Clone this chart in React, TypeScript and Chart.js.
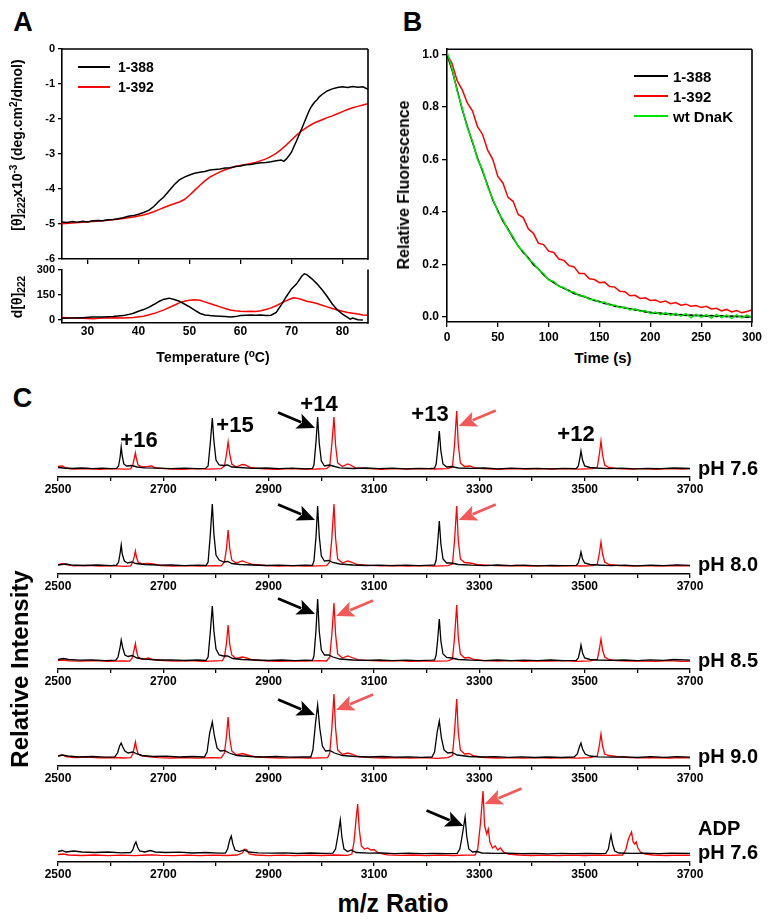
import React, { useEffect, useRef } from "react";
import { Chart, registerables } from "chart.js";
Chart.register(...registerables);

type Pt = [number, number];

// ---------------- Panel A data ----------------
const cdTempTicks = [30, 40, 50, 60, 70, 80];
const cdTempLabels = ["30", "40", "50", "60", "70", "80"];
const cdYTicks = [-6, -5, -4, -3, -2, -1, 0];
const cdYLabels = ["-6", "-5", "-4", "-3", "-2", "-1", "0"];
const derivYTicks = [0, 150, 300];
const derivYLabels = ["0", "150", "300"];

const cd388: Pt[] = [
  [25, -4.94], [26, -4.96], [27, -4.93], [28, -4.95], [29, -4.92], [30, -4.94], [31, -4.91], [32, -4.9],
  [33, -4.91], [34, -4.88], [35, -4.87], [36, -4.85], [37, -4.82], [38, -4.78], [39, -4.76], [40, -4.72],
  [41, -4.67], [42, -4.61], [43, -4.5], [44, -4.35], [45, -4.22], [46, -4.05], [47, -3.88], [48, -3.74],
  [49, -3.66], [50, -3.6], [51, -3.55], [52, -3.52], [53, -3.5], [54, -3.46], [55, -3.44], [56, -3.43],
  [57, -3.4], [58, -3.39], [59, -3.36], [60, -3.34], [61, -3.31], [62, -3.3], [63, -3.27], [64, -3.25],
  [65, -3.24], [66, -3.22], [67, -3.19], [68, -3.17], [68.5, -3.21], [69, -3.14], [69.5, -3.05], [70, -2.95],
  [70.5, -2.78], [71, -2.62], [71.5, -2.45], [72, -2.28], [72.5, -2.1], [73, -1.92], [73.5, -1.75], [74, -1.62],
  [74.5, -1.52], [75, -1.45], [75.5, -1.36], [76, -1.3], [77, -1.2], [78, -1.14], [79, -1.1], [80, -1.08],
  [81, -1.1], [82, -1.07], [83, -1.09], [84, -1.08], [85, -1.15],
];
const cd392: Pt[] = [
  [25, -4.99], [27, -4.97], [29, -4.95], [31, -4.93], [33, -4.91], [35, -4.88], [37, -4.84], [39, -4.8],
  [41, -4.74], [42, -4.7], [43, -4.65], [44, -4.59], [45, -4.53], [46, -4.47], [47, -4.42], [48, -4.37],
  [49, -4.3], [50, -4.18], [51, -4.04], [52, -3.9], [53, -3.77], [54, -3.66], [55, -3.58], [56, -3.51],
  [57, -3.45], [58, -3.4], [59, -3.36], [60, -3.33], [61, -3.3], [62, -3.27], [63, -3.24], [64, -3.19],
  [65, -3.14], [66, -3.07], [67, -2.98], [68, -2.87], [69, -2.74], [70, -2.6], [71, -2.46], [72, -2.34],
  [73, -2.24], [74, -2.15], [75, -2.08], [76, -2.02], [77, -1.96], [78, -1.91], [79, -1.85], [80, -1.79],
  [81, -1.73], [82, -1.68], [83, -1.64], [84, -1.6], [85, -1.56],
];
const deriv388: Pt[] = [
  [25, 10], [27, 12], [29, 14], [31, 17], [33, 18], [35, 20], [37, 26], [38, 32], [39, 40], [40, 52],
  [41, 62], [42, 75], [43, 92], [44, 110], [45, 124], [46, 130], [47, 122], [48, 112], [49, 95], [50, 78],
  [51, 58], [52, 40], [53, 30], [54, 26], [55, 24], [56, 22], [57, 20], [58, 18], [59, 20], [60, 26],
  [61, 28], [62, 30], [63, 28], [64, 30], [65, 26], [66, 28], [67, 45], [68, 90], [69, 140], [70, 185],
  [71, 215], [72, 260], [72.5, 275], [73, 270], [74, 245], [75, 215], [76, 180], [77, 140], [78, 95],
  [79, 60], [80, 35], [81, 15], [81.5, 5], [82, 12], [83, 2], [84, 0],
];
const deriv392: Pt[] = [
  [25, 15], [27, 12], [29, 10], [31, 8], [33, 12], [35, 14], [37, 12], [39, 15], [41, 22], [43, 38],
  [45, 60], [47, 88], [48, 102], [49, 112], [50, 118], [51, 120], [52, 117], [53, 108], [54, 98], [55, 88],
  [56, 78], [57, 68], [58, 60], [59, 55], [60, 52], [61, 51], [62, 52], [63, 50], [64, 55], [65, 62],
  [66, 72], [67, 85], [68, 100], [69, 115], [70, 128], [70.5, 132], [71, 130], [72, 122], [73, 112],
  [74, 105], [75, 98], [76, 88], [77, 78], [78, 68], [79, 60], [80, 52], [81, 45], [82, 40], [83, 35],
  [84, 30], [85, 28],
];

// ---------------- Panel B data ----------------
const timeTicks = [0, 50, 100, 150, 200, 250, 300];
const timeLabels = ["0", "50", "100", "150", "200", "250", "300"];
const fluorTicks = [0, 0.2, 0.4, 0.6, 0.8, 1.0];
const fluorLabels = ["0.0", "0.2", "0.4", "0.6", "0.8", "1.0"];

const fl388: Pt[] = [
  [0, 1.0], [5, 0.94], [10, 0.865], [15, 0.79], [20, 0.725], [25, 0.665], [30, 0.605], [35, 0.555], [40, 0.5],
  [45, 0.445], [50, 0.405], [55, 0.365], [60, 0.335], [65, 0.3], [70, 0.27], [75, 0.245], [80, 0.225],
  [85, 0.198], [90, 0.182], [95, 0.16], [100, 0.142], [105, 0.13], [110, 0.118], [115, 0.108], [120, 0.1],
  [125, 0.088], [130, 0.083], [135, 0.076], [140, 0.07], [145, 0.062], [150, 0.058], [155, 0.05], [160, 0.048],
  [165, 0.04], [170, 0.038], [175, 0.033], [180, 0.031], [185, 0.026], [190, 0.024], [195, 0.018], [200, 0.017],
  [205, 0.013], [210, 0.014], [215, 0.01], [220, 0.011], [225, 0.007], [230, 0.009], [235, 0.005], [240, 0.007],
  [245, 0.004], [250, 0.006], [255, 0.002], [260, 0.005], [265, 0.001], [270, 0.004], [275, 0.0], [280, 0.003],
  [285, 0.0], [290, 0.002], [295, -0.002], [300, 0.001],
];
const fl392: Pt[] = [
  [0, 1.0], [5, 0.965], [10, 0.9], [15, 0.865], [20, 0.815], [25, 0.785], [30, 0.725], [35, 0.695], [40, 0.635],
  [45, 0.6], [50, 0.535], [55, 0.51], [60, 0.455], [65, 0.44], [70, 0.39], [75, 0.378], [80, 0.335], [85, 0.318],
  [90, 0.28], [95, 0.275], [100, 0.25], [105, 0.245], [110, 0.22], [115, 0.215], [120, 0.195], [125, 0.19],
  [130, 0.165], [135, 0.165], [140, 0.145], [145, 0.142], [150, 0.13], [155, 0.132], [160, 0.115], [165, 0.113],
  [170, 0.097], [175, 0.095], [180, 0.08], [185, 0.082], [190, 0.07], [195, 0.072], [200, 0.062], [205, 0.064],
  [210, 0.055], [215, 0.06], [220, 0.05], [225, 0.054], [230, 0.044], [235, 0.048], [240, 0.04], [245, 0.043],
  [250, 0.035], [255, 0.04], [260, 0.03], [265, 0.032], [270, 0.022], [275, 0.028], [280, 0.018], [285, 0.024],
  [290, 0.015], [295, 0.02], [300, 0.026],
];
const flWt: Pt[] = [
  [0, 1.01], [5, 0.945], [10, 0.86], [15, 0.795], [20, 0.72], [25, 0.67], [30, 0.6], [35, 0.56], [40, 0.495],
  [45, 0.45], [50, 0.4], [55, 0.37], [60, 0.33], [65, 0.305], [70, 0.268], [75, 0.25], [80, 0.22], [85, 0.205],
  [90, 0.18], [95, 0.165], [100, 0.14], [105, 0.135], [110, 0.115], [115, 0.112], [120, 0.096], [125, 0.094],
  [130, 0.08], [135, 0.079], [140, 0.066], [145, 0.066], [150, 0.054], [155, 0.056], [160, 0.044], [165, 0.045],
  [170, 0.034], [175, 0.037], [180, 0.026], [185, 0.03], [190, 0.02], [195, 0.024], [200, 0.012], [205, 0.018],
  [210, 0.008], [215, 0.016], [220, 0.005], [225, 0.013], [230, 0.002], [235, 0.012], [240, -0.004], [245, 0.01],
  [250, -0.002], [255, 0.008], [260, -0.005], [265, 0.009], [270, -0.003], [275, 0.006], [280, -0.006],
  [285, 0.007], [290, -0.004], [295, 0.006], [300, -0.002],
];

// ---------------- Panel C data ----------------
const mzTicks = [2500, 2600, 2700, 2800, 2900, 3000, 3100, 3200, 3300, 3400, 3500, 3600, 3700];
const mzLabels = ["2500", "", "2700", "", "2900", "", "3100", "", "3300", "", "3500", "", "3700"];
const chargeStates = ["+16", "+15", "+14", "+13", "+12"];
const rowNames = [["pH 7.6"], ["pH 8.0"], ["pH 8.5"], ["pH 9.0"], ["ADP", "pH 7.6"]];

const ms76Black: Pt[] = [
  [2500, 1.5], [2510, 1], [2525, 0.5], [2545, 1], [2565, 0.3], [2585, 0.8], [2600, 0.4], [2611, 0.6], [2615, 3],
  [2618, 12], [2620, 22], [2622, 13], [2625, 5], [2630, 3], [2640, 3.5], [2650, 2], [2665, 1.2], [2690, 0.8],
  [2715, 0.4], [2740, 0.9], [2765, 0.3], [2780, 0.6], [2785, 3], [2789, 25], [2793, 51], [2796, 28], [2800, 9],
  [2806, 4], [2815, 3.5], [2822, 4], [2830, 2], [2845, 1.5], [2870, 0.6], [2895, 1], [2920, 0.3], [2945, 0.8],
  [2970, 0.2], [2983, 0.6], [2986, 4], [2990, 28], [2993, 52], [2996, 26], [3000, 8], [3006, 3], [3015, 4],
  [3022, 3], [3035, 1.2], [3060, 0.5], [3085, 1], [3110, 0.3], [3135, 0.8], [3160, 0.2], [3185, 0.7],
  [3205, 0.3], [3215, 0.8], [3218, 5], [3221, 20], [3224, 38], [3227, 18], [3231, 5], [3238, 2], [3247, 2.5],
  [3260, 1], [3285, 0.6], [3310, 1], [3335, 0.2], [3360, 0.9], [3385, 0.3], [3410, 0.7], [3435, 0.1],
  [3460, 0.6], [3484, 0.3], [3488, 3], [3491, 11], [3493, 18], [3496, 9], [3500, 3], [3510, 1.5], [3520, 1],
  [3545, 0.4], [3570, 0.9], [3595, 0.2], [3620, 0.7], [3645, 0.3], [3670, 1], [3700, 0.5],
];
const ms76Red: Pt[] = [
  [2500, 2.5], [2508, 3], [2515, 1], [2530, 0], [2555, 0.5], [2580, -0.3], [2605, 0.3], [2625, -0.2], [2638, 0.2],
  [2642, 4], [2645, 11], [2647, 16], [2649, 10], [2652, 4], [2660, 2], [2670, 2.5], [2678, 3], [2685, 1],
  [2710, 0.2], [2735, -0.3], [2760, 0.3], [2785, -0.2], [2810, 0.4], [2816, 3], [2820, 15], [2823, 27],
  [2826, 15], [2830, 5], [2838, 2], [2850, 4.5], [2856, 4], [2865, 1.5], [2890, 0.2], [2915, -0.3], [2940, 0.3],
  [2965, -0.2], [2990, 0], [3010, 0.4], [3016, 3], [3020, 25], [3024, 52], [3027, 24], [3031, 6], [3040, 2.5],
  [3050, 5], [3055, 4], [3065, 1.2], [3090, 0.3], [3115, -0.3], [3140, 0.3], [3165, -0.2], [3190, 0.4],
  [3215, 0], [3240, 0.3], [3249, 2], [3253, 25], [3257, 58], [3260, 25], [3264, 6], [3272, 2.5], [3282, 3],
  [3292, 1], [3315, 0.2], [3340, -0.3], [3365, 0.3], [3390, -0.2], [3415, 0.4], [3440, 0], [3465, 0.3],
  [3490, -0.2], [3515, 0.3], [3524, 2], [3528, 15], [3531, 28], [3534, 14], [3538, 4], [3546, 1.5], [3560, 0.5],
  [3585, -0.2], [3610, 0.3], [3635, -0.3], [3660, 0.4], [3685, 0], [3700, 0.3],
];
const ms80Black: Pt[] = [
  [2500, 1], [2515, 2], [2525, 1], [2550, 0.5], [2575, 1], [2600, 0.4], [2611, 0.8], [2615, 4], [2618, 13],
  [2620, 21], [2622, 12], [2626, 5], [2632, 3], [2640, 4], [2648, 2.5], [2665, 1.5], [2690, 0.8], [2715, 1],
  [2740, 0.4], [2765, 0.9], [2781, 0.5], [2785, 4], [2789, 30], [2793, 62], [2796, 32], [2800, 11], [2806, 6],
  [2815, 4], [2822, 4.5], [2830, 2.5], [2845, 1.5], [2870, 1], [2895, 0.5], [2920, 0.9], [2945, 0.3],
  [2970, 0.8], [2983, 0.6], [2986, 5], [2990, 30], [2993, 60], [2996, 30], [3000, 10], [3006, 5], [3014, 5.5],
  [3022, 3.5], [3035, 2], [3060, 1], [3085, 0.5], [3110, 0.9], [3135, 0.3], [3160, 0.8], [3185, 0.4],
  [3210, 0.9], [3215, 1], [3218, 6], [3221, 24], [3224, 45], [3227, 22], [3231, 7], [3238, 3], [3247, 3],
  [3260, 1.5], [3285, 0.8], [3310, 0.4], [3335, 1], [3360, 0.3], [3385, 0.8], [3410, 0.2], [3435, 0.7],
  [3460, 0.3], [3484, 0.6], [3488, 3], [3491, 9], [3493, 14], [3496, 7], [3500, 3], [3510, 1.5], [3525, 1],
  [3550, 0.4], [3575, 0.9], [3600, 0.2], [3625, 0.8], [3650, 0.3], [3675, 1.2], [3700, 0.6],
];
const ms80Red: Pt[] = [
  [2500, 1], [2508, 2.5], [2515, 1.5], [2530, 0.2], [2555, 0.6], [2580, -0.2], [2605, 0.3], [2625, -0.3],
  [2638, 0.2], [2642, 4], [2645, 10], [2647, 15], [2649, 9], [2652, 4], [2660, 2], [2670, 2.5], [2680, 2],
  [2695, 0.5], [2720, 0], [2745, 0.4], [2770, -0.2], [2795, 0.3], [2810, 0.2], [2816, 4], [2820, 18],
  [2823, 36], [2826, 18], [2830, 6], [2838, 3], [2850, 5], [2858, 3.5], [2870, 1.5], [2895, 0.5], [2920, 0],
  [2945, 0.4], [2970, -0.2], [2995, 0.2], [3010, 0.3], [3016, 4], [3020, 28], [3024, 62], [3027, 28],
  [3031, 7], [3040, 3], [3050, 5], [3057, 4], [3068, 1.5], [3090, 0.6], [3115, 0.2], [3140, 0.5], [3165, 0],
  [3190, 0.4], [3215, -0.2], [3240, 0.3], [3249, 2], [3253, 26], [3257, 60], [3260, 26], [3264, 7],
  [3272, 3.5], [3282, 3], [3295, 1.5], [3320, 0.6], [3345, 0.2], [3370, 0.5], [3395, 0], [3420, 0.4],
  [3445, -0.2], [3470, 0.3], [3495, 0], [3515, 0.3], [3524, 2], [3528, 13], [3531, 24], [3534, 12], [3538, 4],
  [3546, 1.5], [3565, 0.5], [3590, 0], [3615, 0.4], [3640, -0.2], [3665, 0.3], [3700, 0.2],
];
const ms85Black: Pt[] = [
  [2500, 1.5], [2510, 2.5], [2520, 1.5], [2540, 0.8], [2565, 1], [2590, 0.4], [2610, 0.8], [2614, 4],
  [2618, 14], [2620, 21], [2623, 13], [2627, 6], [2633, 4.5], [2641, 5.5], [2650, 3], [2665, 1.8], [2690, 1],
  [2715, 1.2], [2740, 0.5], [2765, 1], [2781, 0.6], [2785, 4], [2789, 28], [2793, 55], [2796, 30], [2800, 12],
  [2806, 6], [2814, 5], [2822, 5], [2832, 2.5], [2850, 1.5], [2875, 1], [2900, 0.5], [2925, 1], [2950, 0.4],
  [2970, 0.8], [2983, 0.6], [2986, 5], [2990, 32], [2993, 62], [2996, 30], [3000, 11], [3006, 6], [3014, 6],
  [3022, 4], [3035, 2], [3060, 1], [3085, 0.6], [3110, 1], [3135, 0.4], [3160, 0.9], [3185, 0.3], [3210, 0.8],
  [3215, 1], [3218, 6], [3221, 22], [3224, 42], [3227, 20], [3231, 7], [3238, 3.5], [3247, 3], [3260, 1.5],
  [3285, 0.8], [3310, 0.4], [3335, 1], [3360, 0.3], [3385, 0.8], [3410, 0.4], [3435, 1], [3460, 0.3],
  [3484, 0.6], [3488, 3], [3491, 10], [3493, 16], [3496, 8], [3500, 3], [3510, 1.5], [3525, 1], [3550, 0.6],
  [3575, 1], [3600, 0.4], [3625, 1.2], [3650, 0.6], [3670, 1.5], [3700, 0.8],
];
const ms85Red: Pt[] = [
  [2500, 0.5], [2510, 1], [2520, 0.2], [2545, -0.2], [2570, 0.3], [2595, -0.3], [2620, 0.2], [2636, -0.2],
  [2641, 3], [2644, 10], [2647, 17.5], [2649, 10], [2652, 4], [2660, 1.5], [2672, 3], [2680, 1.5], [2700, 0.3],
  [2725, -0.2], [2750, 0.3], [2775, -0.3], [2800, 0.2], [2812, 0.3], [2816, 4], [2820, 18], [2823, 36],
  [2826, 17], [2830, 6], [2838, 2.5], [2850, 4], [2858, 3], [2870, 1], [2895, 0.2], [2920, -0.3], [2945, 0.2],
  [2970, -0.2], [2995, 0.3], [3010, 0], [3016, 4], [3020, 27], [3024, 58], [3027, 27], [3031, 7], [3040, 3],
  [3050, 5], [3058, 3.5], [3070, 1.2], [3095, 0.3], [3120, -0.2], [3145, 0.3], [3170, -0.3], [3195, 0.2],
  [3220, -0.2], [3240, 0.2], [3249, 2], [3253, 24], [3257, 56], [3260, 24], [3264, 7], [3272, 3], [3280, 3.5],
  [3290, 1.5], [3310, 0.3], [3335, -0.2], [3360, 0.3], [3385, -0.3], [3410, 0.2], [3435, -0.2], [3460, 0.3],
  [3485, -0.3], [3510, 0.2], [3524, 1.5], [3528, 12], [3531, 22], [3534, 11], [3538, 4], [3546, 1.5],
  [3560, 0.3], [3585, -0.2], [3610, 0.2], [3635, -0.4], [3660, 0.3], [3685, -0.3], [3700, 0],
];
const ms90Black: Pt[] = [
  [2500, 2], [2508, 3], [2518, 2], [2540, 1], [2565, 1.5], [2590, 0.8], [2608, 1.2], [2613, 5], [2617, 12],
  [2620, 15], [2623, 11], [2627, 7], [2633, 5], [2642, 6], [2650, 4], [2660, 2.5], [2680, 1.5], [2705, 1.8],
  [2730, 1], [2755, 1.5], [2778, 1], [2783, 6], [2788, 25], [2793, 36], [2797, 22], [2802, 10], [2808, 7],
  [2816, 7.5], [2825, 5], [2840, 2.5], [2865, 1.5], [2890, 1], [2915, 1.5], [2940, 0.8], [2965, 1.2],
  [2980, 1], [2984, 8], [2989, 35], [2993, 53], [2997, 30], [3002, 12], [3008, 7], [3016, 7.5], [3025, 5],
  [3040, 2.5], [3065, 1.5], [3090, 1], [3115, 1.5], [3140, 0.8], [3165, 1.2], [3190, 0.7], [3210, 1],
  [3215, 6], [3220, 26], [3224, 37], [3228, 20], [3233, 8], [3240, 5], [3248, 5.5], [3258, 3], [3280, 1.5],
  [3305, 1], [3330, 1.4], [3355, 0.6], [3380, 1.2], [3405, 0.5], [3430, 1], [3455, 0.5], [3480, 1], [3486, 4],
  [3490, 11], [3493, 15], [3496, 9], [3501, 4], [3510, 2], [3525, 1.2], [3550, 0.8], [3575, 1.2], [3600, 0.5],
  [3625, 1.3], [3650, 0.7], [3675, 1.4], [3700, 0.8],
];
const ms90Red: Pt[] = [
  [2500, 2], [2508, 3], [2515, 1.5], [2530, 0.5], [2555, 1], [2580, 0.2], [2605, 0.5], [2625, 0], [2638, 0.3],
  [2642, 4], [2645, 11], [2647, 16], [2649, 10], [2652, 4], [2660, 2], [2670, 1.5], [2690, 0.3], [2715, 0],
  [2740, 0.4], [2765, -0.2], [2790, 0.3], [2810, 0.2], [2816, 5], [2820, 22], [2823, 41], [2826, 20],
  [2830, 7], [2838, 3], [2850, 4.5], [2860, 3], [2875, 1], [2900, 0.3], [2925, -0.2], [2950, 0.3], [2975, -0.2],
  [3000, 0.2], [3012, 0.4], [3016, 5], [3020, 30], [3024, 64], [3027, 30], [3031, 8], [3040, 3.5], [3050, 5],
  [3058, 4], [3070, 1.5], [3095, 0.4], [3120, 0], [3145, 0.4], [3170, -0.2], [3195, 0.3], [3220, -0.3],
  [3240, 0.3], [3249, 2.5], [3253, 27], [3257, 59], [3260, 26], [3264, 8], [3272, 4], [3280, 4.5], [3290, 2],
  [3310, 0.5], [3335, 0], [3360, 0.4], [3385, -0.2], [3410, 0.3], [3435, 0], [3460, 0.4], [3485, -0.2],
  [3510, 0.3], [3524, 2], [3528, 13], [3531, 24], [3534, 12], [3538, 4], [3546, 2.5], [3560, 1.5], [3585, 0.5],
  [3610, 0.2], [3635, 0.5], [3660, 0], [3685, 0.4], [3700, 0.2],
];
const msAdpBlack: Pt[] = [
  [2500, 2.5], [2508, 3.5], [2515, 2], [2530, 3], [2545, 2], [2570, 1.5], [2595, 2], [2620, 1.2], [2638, 1.5],
  [2642, 4], [2645, 9], [2648, 12], [2651, 7], [2655, 3], [2665, 2], [2675, 3.5], [2685, 2], [2705, 1.5],
  [2730, 1.8], [2755, 1], [2780, 1.5], [2805, 0.8], [2818, 1], [2822, 5], [2826, 14], [2829, 18], [2832, 10],
  [2836, 4], [2845, 2.5], [2853, 4], [2862, 2], [2880, 1.2], [2905, 0.8], [2930, 1.2], [2955, 0.5], [2980, 1],
  [3005, 0.6], [3022, 0.8], [3027, 5], [3032, 20], [3036, 34], [3039, 17], [3043, 5], [3050, 2.5], [3057, 4],
  [3066, 1.5], [3090, 0.8], [3115, 1], [3140, 0.4], [3165, 0.8], [3190, 0.3], [3215, 0.7], [3240, 0.3],
  [3258, 0.6], [3263, 5], [3268, 20], [3273, 37], [3276, 18], [3280, 5], [3287, 2], [3295, 2.5], [3305, 1],
  [3330, 0.6], [3355, 0.9], [3380, 0.3], [3405, 0.7], [3430, 0.2], [3455, 0.6], [3480, 0.3], [3505, 0.7],
  [3530, 0.4], [3540, 0.6], [3545, 5], [3548, 14], [3550, 19], [3553, 10], [3557, 3], [3565, 1], [3590, 0.6],
  [3615, 0.9], [3640, 0.3], [3665, 0.8], [3700, 0.5],
];
const msAdpRed: Pt[] = [
  [2500, -0.5], [2510, 0], [2520, -1], [2545, -1.5], [2570, -1], [2595, -1.6], [2620, -1.2], [2645, -1.7],
  [2670, -1], [2680, -0.8], [2695, -1.3], [2720, -1.6], [2745, -1.1], [2770, -1.7], [2795, -1.2], [2820, -1.5],
  [2840, -1], [2850, 1], [2855, 5], [2859, 4], [2863, 0], [2875, -1], [2900, -1.6], [2925, -1.1], [2950, -1.7],
  [2975, -1.2], [3000, -1.5], [3025, -1], [3050, -1.3], [3058, 0], [3062, 12], [3066, 35], [3069, 50],
  [3072, 25], [3076, 8], [3082, 5], [3088, 6], [3094, 4], [3100, 4.5], [3108, 1], [3125, -0.8], [3150, -1.4],
  [3175, -1], [3200, -1.6], [3225, -1.1], [3250, -1.5], [3275, -1.2], [3292, -1], [3297, 5], [3302, 30],
  [3307, 63], [3310, 28], [3314, 20], [3317, 25], [3320, 12], [3325, 6], [3330, 8], [3335, 4], [3340, 6],
  [3346, 2], [3355, 0], [3375, -1], [3400, -1.5], [3425, -1.1], [3450, -1.6], [3475, -1.2], [3500, -1.5],
  [3525, -1.1], [3550, -1.4], [3572, -1], [3578, 4], [3583, 15], [3589, 22], [3592, 12], [3595, 10],
  [3598, 12], [3601, 6], [3606, 2], [3615, 0], [3630, -1], [3655, -1.5], [3680, -1.1], [3700, -1.4],
];

type ArrowT = { mz: number; y: number; color: "black" | "red" };
const arrowsPh76: ArrowT[] = [{ mz: 2988, y: 41, color: "black" }, { mz: 3261, y: 43, color: "red" }];
const arrowsPh80: ArrowT[] = [{ mz: 2988, y: 46, color: "black" }, { mz: 3261, y: 46, color: "red" }];
const arrowsPh85: ArrowT[] = [{ mz: 2988, y: 47, color: "black" }, { mz: 3028, y: 45, color: "red" }];
const arrowsPh90: ArrowT[] = [{ mz: 2988, y: 43, color: "black" }, { mz: 3028, y: 48, color: "red" }];
const arrowsAdp: ArrowT[] = [{ mz: 3270, y: 28, color: "black" }, { mz: 3310, y: 50, color: "red" }];

// ---------------- layout / style ----------------
const FONT = 'Arial, "Liberation Sans", Helvetica, sans-serif';
const RED = "#ff0000";
const GREEN = "#00e600";
const ARROW_RED = "#f25a5a";

type Rect = { l: number; t: number; r: number; b: number };
type Marg = { ml: number; mr: number; mt: number; mb: number };

function lineDs(pts: Pt[], color: string, width: number) {
  return {
    data: pts.map((p) => ({ x: p[0], y: p[1] })),
    borderColor: color,
    borderWidth: width,
    pointRadius: 0,
    fill: false,
    tension: 0,
  };
}

function axis(
  horizontal: boolean,
  min: number,
  max: number,
  ticks: number[],
  labels: string[],
  o: {
    size: number;
    tickLength: number;
    padding: number;
    fit: number;
    drawTicks?: boolean;
    hideLabels?: boolean;
  }
) {
  const labelFor = (v: number) => {
    const k = ticks.findIndex((t) => Math.abs(t - v) < 1e-6);
    return k >= 0 ? labels[k] : "";
  };
  const cfg: any = {
    type: "linear",
    position: horizontal ? "bottom" : "left",
    min,
    max,
    afterBuildTicks: (s: any) => {
      s.ticks = ticks.map((v) => ({ value: v }));
    },
    afterFit: (s: any) => {
      if (horizontal) s.height = o.fit;
      else s.width = o.fit;
    },
    ticks: {
      display: !o.hideLabels,
      padding: o.padding,
      color: "#000",
      font: { family: FONT, size: o.size, weight: "bold" },
      callback: (v: any) => labelFor(Number(v)),
    },
    grid: {
      drawOnChartArea: false,
      drawTicks: o.drawTicks !== false,
      tickLength: o.tickLength,
      color: "#000",
      lineWidth: 1.3,
    },
    border: { display: true, color: "#000", width: 1.6 },
  };
  if (horizontal) {
    cfg.ticks.autoSkip = false;
    cfg.ticks.maxRotation = 0;
    cfg.ticks.minRotation = 0;
  }
  return cfg;
}

// tick labels of a y axis written next to the axis, at the scale's own pixel positions
function yLabelPlugin(values: number[], labels: string[], size: number, gap: number) {
  return {
    id: "ylabels",
    afterDraw(chart: any) {
      const ys = chart.scales.y;
      const ctx = chart.ctx;
      ctx.save();
      ctx.fillStyle = "#000";
      ctx.font = `bold ${size}px ${FONT}`;
      ctx.textAlign = "right";
      ctx.textBaseline = "middle";
      values.forEach((v, i) => {
        ctx.fillText(labels[i], ys.right - gap, ys.getPixelForValue(v));
      });
      ctx.restore();
    },
  };
}

function framePlugin(top: boolean, right: boolean) {
  return {
    id: "frame",
    afterDraw(chart: any) {
      const { ctx, chartArea: a } = chart;
      ctx.save();
      ctx.strokeStyle = "#000";
      ctx.lineWidth = 1.6;
      ctx.beginPath();
      if (top) {
        ctx.moveTo(a.left, a.top);
        ctx.lineTo(a.right, a.top);
      }
      if (right) {
        ctx.moveTo(a.right, a.top);
        ctx.lineTo(a.right, a.bottom + 0.8);
      }
      ctx.stroke();
      ctx.restore();
    },
  };
}

function arrowPlugin(arrows: ArrowT[]) {
  return {
    id: "arrows",
    afterDatasetsDraw(chart: any) {
      const ctx = chart.ctx;
      const xs = chart.scales.x;
      const ys = chart.scales.y;
      arrows.forEach((a) => {
        const tx = xs.getPixelForValue(a.mz);
        const ty = ys.getPixelForValue(a.y);
        const dir = a.color === "black" ? -1 : 1;
        const sx = tx + dir * 37;
        const sy = ty - 15.5;
        const ang = Math.atan2(ty - sy, tx - sx);
        const headLen = 18;
        const headW = 8;
        const bx = tx - headLen * Math.cos(ang);
        const by = ty - headLen * Math.sin(ang);
        const col = a.color === "black" ? "#000" : ARROW_RED;
        ctx.save();
        ctx.strokeStyle = col;
        ctx.fillStyle = col;
        ctx.lineWidth = 2.8;
        ctx.beginPath();
        ctx.moveTo(sx, sy);
        ctx.lineTo(bx + 3 * Math.cos(ang), by + 3 * Math.sin(ang));
        ctx.stroke();
        ctx.beginPath();
        ctx.moveTo(tx, ty);
        ctx.lineTo(bx + headW * Math.sin(ang), by - headW * Math.cos(ang));
        ctx.lineTo(bx + 4 * Math.cos(ang), by + 4 * Math.sin(ang));
        ctx.lineTo(bx - headW * Math.sin(ang), by + headW * Math.cos(ang));
        ctx.closePath();
        ctx.fill();
        ctx.restore();
      });
    },
  };
}

function baseOptions(m: Marg, yHidden: boolean, scales: any) {
  return {
    animation: false,
    responsive: false,
    maintainAspectRatio: false,
    devicePixelRatio: 1,
    events: [],
    layout: { padding: { left: yHidden ? m.ml : 0, right: m.mr, top: m.mt, bottom: 0 } },
    plugins: { legend: { display: false }, tooltip: { enabled: false } },
    scales,
  };
}

function ChartCanvas({ rect, m, build }: { rect: Rect; m: Marg; build: () => any }) {
  const ref = useRef<HTMLCanvasElement | null>(null);
  useEffect(() => {
    const c = new Chart(ref.current as HTMLCanvasElement, build());
    return () => c.destroy();
  }, []);
  const w = rect.r - rect.l + m.ml + m.mr;
  const h = rect.b - rect.t + m.mt + m.mb;
  return (
    <canvas
      ref={ref}
      width={w}
      height={h}
      style={{ position: "absolute", left: rect.l - m.ml, top: rect.t - m.mt, width: w, height: h }}
    />
  );
}

function Txt({
  x,
  y,
  size,
  children,
  align = "center",
  rotate = false,
}: {
  x: number;
  y: number;
  size: number;
  children: any;
  align?: "center" | "left";
  rotate?: boolean;
}) {
  const tx = align === "center" ? "-50%" : "0";
  return (
    <div
      style={{
        position: "absolute",
        left: x,
        top: y,
        fontSize: size,
        fontWeight: "bold",
        lineHeight: 1,
        whiteSpace: "nowrap",
        transform: `translate(${tx}, -50%)${rotate ? " rotate(-90deg)" : ""}`,
      }}
    >
      {children}
    </div>
  );
}

function LegendLine({ x1, x2, y, color }: { x1: number; x2: number; y: number; color: string }) {
  return <div style={{ position: "absolute", left: x1, top: y - 1, width: x2 - x1, height: 2, background: color }} />;
}

const sub = { fontSize: "0.72em", position: "relative" as const, top: "0.3em" };
const sup = { fontSize: "0.72em", position: "relative" as const, top: "-0.45em" };

// chart rectangles
const rectATop: Rect = { l: 62, t: 49, r: 368, b: 259 };
const margATop: Marg = { ml: 40, mr: 10, mt: 12, mb: 12 };
const rectABot: Rect = { l: 62, t: 268, r: 368, b: 323 };
const margABot: Marg = { ml: 40, mr: 10, mt: 8, mb: 22 };
const rectB: Rect = { l: 447, t: 49, r: 752, b: 322 };
const margB: Marg = { ml: 45, mr: 14, mt: 10, mb: 24 };
const rowAxisY = [477, 574, 669, 766, 862];
const margRow: Marg = { ml: 20, mr: 20, mt: 10, mb: 22 };

const specRows: { black: Pt[]; red: Pt[]; arrows: ArrowT[] }[] = [
  { black: ms76Black, red: ms76Red, arrows: arrowsPh76 },
  { black: ms80Black, red: ms80Red, arrows: arrowsPh80 },
  { black: ms85Black, red: ms85Red, arrows: arrowsPh85 },
  { black: ms90Black, red: ms90Red, arrows: arrowsPh90 },
  { black: msAdpBlack, red: msAdpRed, arrows: arrowsAdp },
];

export default function App() {
  const buildATop = () => ({
    type: "line",
    data: { datasets: [lineDs(cd388, "#000", 1.5), lineDs(cd392, RED, 1.5)] },
    options: baseOptions(margATop, false, {
      x: axis(true, 25, 85, cdTempTicks, cdTempLabels, {
        size: 12,
        tickLength: 5,
        padding: 0,
        fit: margATop.mb,
        hideLabels: true,
      }),
      y: axis(false, -6, 0, cdYTicks, cdYLabels, {
        size: 11,
        tickLength: 4,
        padding: 3,
        fit: margATop.ml,
        hideLabels: true,
      }),
    }),
    plugins: [framePlugin(true, true), yLabelPlugin(cdYTicks, cdYLabels, 11, 7)],
  });
  const buildABot = () => ({
    type: "line",
    data: { datasets: [lineDs(deriv388, "#000", 1.5), lineDs(deriv392, RED, 1.5)] },
    options: baseOptions(margABot, false, {
      x: axis(true, 25, 85, cdTempTicks, cdTempLabels, { size: 12, tickLength: 0, padding: 1, fit: margABot.mb, drawTicks: false }),
      y: axis(false, -18, 300, derivYTicks, derivYLabels, { size: 11, tickLength: 4, padding: 3, fit: margABot.ml }),
    }),
    plugins: [framePlugin(false, true)],
  });
  const buildB = () => ({
    type: "line",
    data: { datasets: [lineDs(flWt, GREEN, 1.5), lineDs(fl388, "#000", 1.5), lineDs(fl392, RED, 1.5)] },
    options: baseOptions(margB, false, {
      x: axis(true, 0, 300, timeTicks, timeLabels, { size: 12, tickLength: 5, padding: 3, fit: margB.mb }),
      y: axis(false, -0.02, 1.02, fluorTicks, fluorLabels, { size: 12, tickLength: 5, padding: 3, fit: margB.ml }),
    }),
    plugins: [framePlugin(true, true)],
  });
  const buildRow = (i: number) => () => ({
    type: "line",
    data: { datasets: [lineDs(specRows[i].black, "#000", 1.3), lineDs(specRows[i].red, RED, 1.3)] },
    options: baseOptions(margRow, true, {
      x: axis(true, 2500, 3700, mzTicks, mzLabels, { size: 12, tickLength: 4, padding: 1, fit: margRow.mb }),
      y: { type: "linear", display: false, min: -8, max: 66 },
    }),
    plugins: [arrowPlugin(specRows[i].arrows)],
  });

  const chargePos = [
    [139, 439.5],
    [235, 425],
    [319, 404],
    [430, 414],
    [576, 434],
  ];
  const rowLabelY = [[468], [564], [660], [756], [828, 852]];

  return (
    <div
      style={{
        position: "absolute",
        left: 0,
        top: 0,
        width: 770,
        height: 922,
        background: "#fff",
        color: "#000",
        fontFamily: FONT,
        overflow: "hidden",
      }}
    >
      <ChartCanvas rect={rectATop} m={margATop} build={buildATop} />
      <ChartCanvas rect={rectABot} m={margABot} build={buildABot} />
      <ChartCanvas rect={rectB} m={margB} build={buildB} />
      {rowAxisY.map((yb, i) => (
        <ChartCanvas key={i} rect={{ l: 58, t: yb - 74, r: 690, b: yb }} m={margRow} build={buildRow(i)} />
      ))}

      {/* panel letters */}
      <Txt x={23} y={22} size={27}>A</Txt>
      <Txt x={412.5} y={22} size={27}>B</Txt>
      <Txt x={22.5} y={398} size={27}>C</Txt>

      {/* panel A texts */}
      <LegendLine x1={78} x2={110} y={67} color="#000" />
      <LegendLine x1={78} x2={110} y={87} color={RED} />
      <Txt x={118} y={67} size={14} align="left">1-388</Txt>
      <Txt x={118} y={87} size={14} align="left">1-392</Txt>
      <Txt x={17} y={145} size={14} rotate>
        [θ]<span style={sub}>222</span>x10<span style={sup}>-3</span> (deg.cm<span style={sup}>2</span>/dmol)
      </Txt>
      <Txt x={17} y={297} size={14} rotate>
        d[θ]<span style={sub}>222</span>
      </Txt>
      <Txt x={213} y={357} size={14}>
        Temperature (<span style={sup}>o</span>C)
      </Txt>

      {/* panel B texts */}
      <LegendLine x1={634} x2={668} y={76} color="#000" />
      <LegendLine x1={634} x2={668} y={96} color={RED} />
      <LegendLine x1={634} x2={668} y={116} color={GREEN} />
      <Txt x={673} y={76} size={15} align="left">1-388</Txt>
      <Txt x={673} y={96} size={15} align="left">1-392</Txt>
      <Txt x={673} y={116} size={15} align="left">wt DnaK</Txt>
      <Txt x={404} y={185} size={16} rotate>Relative Fluorescence</Txt>
      <Txt x={603} y={357} size={15}>Time (s)</Txt>

      {/* panel C texts */}
      {chargeStates.map((c, i) => (
        <Txt key={c} x={chargePos[i][0]} y={chargePos[i][1]} size={22}>
          {c}
        </Txt>
      ))}
      {rowNames.map((names, i) =>
        names.map((n, j) => (
          <Txt key={`${i}-${j}`} x={698} y={rowLabelY[i][j]} size={20} align="left">
            {n}
          </Txt>
        ))
      )}
      <Txt x={20} y={669} size={24} rotate>Relative Intensity</Txt>
      <Txt x={393} y={903} size={25}>m/z Ratio</Txt>
    </div>
  );
}
